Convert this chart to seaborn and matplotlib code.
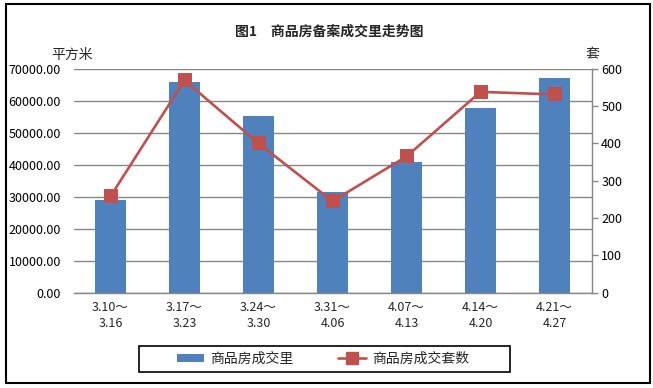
import matplotlib
matplotlib.use("Agg")
import matplotlib.pyplot as plt
import seaborn as sns
import pandas as pd
import numpy as np
from matplotlib.patches import Rectangle, Patch
from matplotlib.lines import Line2D

weeks = ["3.10～\n3.16", "3.17～\n3.23", "3.24～\n3.30", "3.31～\n4.06",
         "4.07～\n4.13", "4.14～\n4.20", "4.21～\n4.27"]
area = [29100, 65700, 55100, 31500, 40900, 57800, 67200]
units = [258, 569, 400, 245, 365, 538, 531]
left_ticks = [0, 10000, 20000, 30000, 40000, 50000, 60000, 70000]
right_ticks = [0, 100, 200, 300, 400, 500, 600]
title = "图1　商品房备案成交里走势图"
left_unit = "平方米"
right_unit = "套"
bar_label = "商品房成交里"
line_label = "商品房成交套数"

sns.set_theme(style="white")
plt.rcParams["font.family"] = ["Noto Sans CJK SC", "DejaVu Sans"]

bar_color = "#4F81BD"
line_color = "#C0504D"
grid_color = "#868686"

df = pd.DataFrame({"week": weeks, "area": area, "units": units})

W, H = 653, 388
fig = plt.figure(figsize=(W / 100, H / 100), dpi=100)
fig.patch.set_facecolor("white")
ax = fig.add_axes([73.5 / W, 1 - 292.7 / H, (591.5 - 73.5) / W, (292.7 - 68.7) / H])

sns.barplot(data=df, x="week", y="area", ax=ax, color=bar_color,
            width=0.42, saturation=1, linewidth=0, zorder=2)
ax.set_xlim(-0.5, len(weeks) - 0.5)
ax.set_ylim(0, 70000)
ax.set_yticks(left_ticks)
ax.set_yticklabels([f"{v:.2f}" for v in left_ticks], fontsize=9)
ax.tick_params(axis="y", length=0, pad=9, colors="black")
ax.tick_params(axis="x", length=0, pad=6, labelsize=9)
for lab in ax.get_xticklabels():
    lab.set_linespacing(1.3)
ax.set_xlabel("")
ax.set_ylabel("")
ax.grid(axis="y", color=grid_color, linewidth=1.0, zorder=0)
ax.set_axisbelow(True)
for s in ["left", "top", "right"]:
    ax.spines[s].set_visible(False)
ax.spines["bottom"].set_color(grid_color)
ax.spines["bottom"].set_linewidth(1.0)

ax2 = ax.twinx()
sns.pointplot(data=df, x="week", y="units", ax=ax2, color=line_color,
              markers="s", markersize=9, linewidth=1.9, zorder=3)
ax2.set_xlim(-0.5, len(weeks) - 0.5)
ax2.set_ylim(0, 600)
ax2.set_yticks(right_ticks)
ax2.set_yticklabels([str(v) for v in right_ticks], fontsize=9)
ax2.tick_params(axis="y", length=4, width=1, pad=3, colors="black")
ax2.tick_params(axis="y", color=grid_color)
ax2.set_ylabel("")
ax2.set_xlabel("")
for s in ["left", "top", "bottom"]:
    ax2.spines[s].set_visible(False)
ax2.spines["right"].set_color(grid_color)
ax2.spines["right"].set_linewidth(1.0)

fig.text(329 / W, 1 - 32 / H, title, ha="center", va="center",
         fontsize=10, fontweight="bold")
fig.text(72 / W, 1 - 55 / H, left_unit, ha="center", va="center", fontsize=10)
fig.text(592 / W, 1 - 54 / H, right_unit, ha="center", va="center", fontsize=10)

# legend box
fig.patches.append(Rectangle((139 / W, 1 - 372 / H), (510 - 139) / W, (372 - 346) / H,
                             transform=fig.transFigure, fill=False,
                             edgecolor="black", linewidth=1.2))
handles = [Patch(facecolor=bar_color, edgecolor="none"),
           Line2D([0], [0], color=line_color, lw=1.9, marker="s", markersize=8)]
leg = fig.legend(handles, [bar_label, line_label], ncol=2, loc="center",
                 bbox_to_anchor=(323 / W, 1 - 359 / H), frameon=False,
                 fontsize=10, handlelength=2.0, handleheight=0.55,
                 columnspacing=3.2, borderpad=0, handletextpad=0.45,
                 borderaxespad=0)

fig.patches.append(Rectangle((6 / W, 1 - 383 / H), (650 - 6) / W, (383 - 4) / H,
                             transform=fig.transFigure, fill=False,
                             edgecolor="black", linewidth=1.5))

fig.savefig("out.png", dpi=100)
